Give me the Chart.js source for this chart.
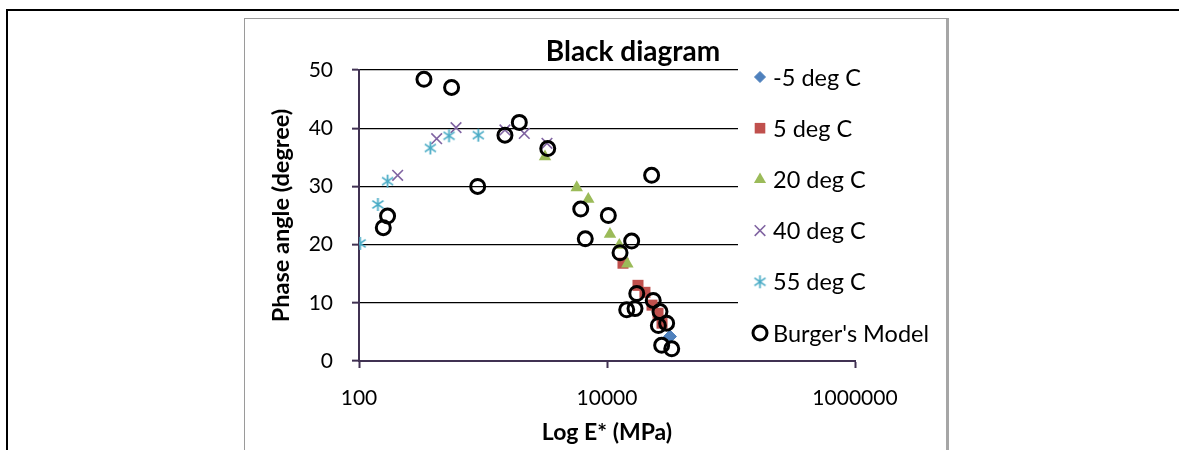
<!DOCTYPE html>
<html>
<head>
<meta charset="utf-8">
<script src="https://cdn.jsdelivr.net/npm/chart.js@4.4.1/dist/chart.umd.min.js"></script>
<style>
html,body{margin:0;padding:0;background:#fff;width:1179px;height:450px;overflow:hidden;}
#outer{position:absolute;left:6px;top:9px;width:1200px;height:500px;border-left:2px solid #000;border-top:2px solid #000;box-sizing:border-box;}
#frame{position:absolute;left:244px;top:18px;width:705px;height:500px;border-left:1px solid #9a9a9a;border-top:1px solid #9a9a9a;border-right:3px solid #a6a6a6;box-sizing:border-box;}
#wrap{position:absolute;left:245px;top:20px;width:702px;height:430px;}
</style>
</head>
<body>
<div id="outer"></div>
<div id="frame"></div>
<div id="wrap"><canvas id="c" width="702" height="430"></canvas></div>
<script>
// ---- data ----
const chartTitle = 'Black diagram';
const xTitle = 'Log E* (MPa)';
const yTitle = 'Phase angle (degree)';
const xTickValues = [100, 10000, 1000000];
const yTickMin = 0, yTickMax = 50, yTickStep = 10;
const seriesLabels = ['-5 deg C', '5 deg C', '20 deg C', '40 deg C', '55 deg C', "Burger's Model"];

const eM5 = [32200];
const pM5 = [4.2];
const e5 = [13460, 17780, 20230, 23070, 25790, 27790];
const p5 = [16.8, 13.0, 11.8, 9.6, 8.2, 6.5];
const e20 = [3162, 5700, 7065, 10570, 12570, 14590];
const p20 = [35.1, 29.8, 27.8, 21.8, 19.9, 16.7];
const e40 = [205, 423, 606, 1503, 2153, 3280];
const p40 = [31.9, 38.2, 40.1, 39.7, 39.1, 37.4];
const e55 = [102, 142, 170, 376, 532, 916];
const p55 = [20.2, 26.9, 30.9, 36.6, 38.7, 38.8];
const eBurger = [334, 558, 1503, 1963, 3327, 906, 170, 157, 22900, 6140, 10250, 6680, 15810, 12740,
                 17380, 14420, 16820, 23600, 26740, 25950, 30270, 27600, 33270];
const pBurger = [48.4, 47.0, 38.8, 41.0, 36.5, 30.0, 24.9, 22.9, 31.9, 26.1, 25.0, 21.0, 20.6, 18.6,
                 11.6, 8.8, 9.0, 10.4, 8.5, 6.1, 6.5, 2.7, 2.1];

// ---- styles ----
const FONT = 'Lato, "Open Sans", sans-serif';
const AXIS_COLOR = '#403152';
const pts = (xs, ys) => xs.map((x, i) => ({x: x, y: ys[i]}));

// Excel-like six-armed asterisk marker
function asterisk(size, color, lw) {
  const c = document.createElement('canvas');
  c.width = size; c.height = size;
  const g = c.getContext('2d');
  const m = size / 2, r = size / 2 - 1;
  g.strokeStyle = color; g.lineWidth = lw; g.lineCap = 'butt';
  g.beginPath();
  g.moveTo(m, m - r); g.lineTo(m, m + r);
  const d = r * 0.85;
  g.moveTo(m - d, m - d * 0.7); g.lineTo(m + d, m + d * 0.7);
  g.moveTo(m - d, m + d * 0.7); g.lineTo(m + d, m - d * 0.7);
  g.stroke();
  return c;
}
const starImg = asterisk(15, '#4BACC6', 1.8);
const starLegendImg = asterisk(15, '#4BACC6', 1.7);

const datasets = [
  {label: seriesLabels[0], data: pts(eM5, pM5), pointStyle: 'rectRot', pointRadius: 6.5,
   backgroundColor: '#4F81BD', borderColor: '#4F81BD', pointBorderWidth: 1, legendRadius: 5.5, order: 1},
  {label: seriesLabels[1], data: pts(e5, p5), pointStyle: 'rect', pointRadius: 7.8,
   backgroundColor: '#C0504D', borderColor: '#C0504D', pointBorderWidth: 0, legendRadius: 7.5, order: 5},
  {label: seriesLabels[2], data: pts(e20, p20), pointStyle: 'triangle', pointRadius: 7.2,
   backgroundColor: '#9BBB59', borderColor: '#9BBB59', pointBorderWidth: 0, legendRadius: 7, order: 4},
  {label: seriesLabels[3], data: pts(e40, p40), pointStyle: 'crossRot', pointRadius: 7.5,
   backgroundColor: '#8064A2', borderColor: '#8064A2', pointBorderWidth: 1.6, legendRadius: 7.5, order: 3},
  {label: seriesLabels[4], data: pts(e55, p55), pointStyle: starImg, pointRadius: 7,
   backgroundColor: '#4BACC6', borderColor: '#4BACC6', pointBorderWidth: 1.6, legendRadius: 7,
   legendStyle: starLegendImg, order: 2},
  {label: seriesLabels[5], data: pts(eBurger, pBurger), pointStyle: 'circle', pointRadius: 7,
   backgroundColor: 'rgba(0,0,0,0)', borderColor: '#000', pointBorderWidth: 3, legendRadius: 7, order: 0}
];
datasets.forEach(d => { d.showLine = false; d.pointHoverRadius = d.pointRadius; });

const LEG = {boxX: 493, boxY: 46, boxW: 207, boxH: 287, markerX: 515, textX: 528, top: 57, step: 51.2};

const sideLegend = {
  id: 'sideLegend',
  afterDraw(chart) {
    const ctx = chart.ctx;
    ctx.save();
    ctx.fillStyle = '#fff';
    ctx.fillRect(LEG.boxX, LEG.boxY, LEG.boxW, LEG.boxH);
    chart.data.datasets.forEach((ds, i) => {
      const y = LEG.top + i * LEG.step;
      ctx.fillStyle = ds.backgroundColor;
      ctx.strokeStyle = ds.borderColor;
      ctx.lineWidth = ds.pointBorderWidth;
      Chart.helpers.drawPoint(ctx, {pointStyle: ds.legendStyle || ds.pointStyle, radius: ds.legendRadius,
        borderWidth: ds.pointBorderWidth, rotation: 0}, LEG.markerX, y);
      ctx.fillStyle = '#000';
      ctx.font = '23.5px ' + FONT;
      ctx.textAlign = 'left';
      ctx.textBaseline = 'middle';
      ctx.fillText(ds.label, LEG.textX, y + 1);
    });
    // chart title
    ctx.font = 'bold 28px ' + FONT;
    ctx.textAlign = 'center';
    ctx.textBaseline = 'alphabetic';
    ctx.fillStyle = '#000';
    ctx.fillText(chartTitle, 388, 41);
    ctx.restore();
  }
};

new Chart(document.getElementById('c'), {
  type: 'scatter',
  data: {datasets: datasets},
  options: {
    responsive: false,
    animation: false,
    events: [],
    layout: {padding: {left: 0, top: 50, right: 92, bottom: 0}},
    plugins: {legend: {display: false}, title: {display: false}, tooltip: {enabled: false}},
    scales: {
      x: {
        type: 'logarithmic', min: 100, max: 1000000,
        afterBuildTicks: s => { s.ticks = xTickValues.map(v => ({value: v})); },
        afterFit: s => { s.height = 89; },
        ticks: {autoSkip: false, maxRotation: 0, padding: 18, color: '#000',
                font: {family: FONT, size: 21}, callback: v => String(v)},
        grid: {drawOnChartArea: false, drawTicks: true, tickLength: 7, tickColor: AXIS_COLOR, tickWidth: 2},
        border: {color: AXIS_COLOR, width: 2},
        title: {display: true, text: xTitle, color: '#000', font: {family: FONT, size: 23, weight: 'bold'},
                padding: {top: 0, bottom: 4}}
      },
      y: {
        min: yTickMin, max: yTickMax,
        afterFit: s => { s.width = 114; },
        ticks: {stepSize: yTickStep, padding: 19, color: '#000', font: {family: FONT, size: 21}},
        grid: {color: '#000', lineWidth: 1.3, drawTicks: true, tickLength: 7, tickColor: AXIS_COLOR, tickWidth: 2},
        border: {color: AXIS_COLOR, width: 2},
        title: {display: true, text: yTitle, color: '#000', font: {family: FONT, size: 23.5, weight: 'bold'},
                padding: {top: 22, bottom: 0}}
      }
    }
  },
  plugins: [sideLegend]
});
</script>
</body>
</html>
